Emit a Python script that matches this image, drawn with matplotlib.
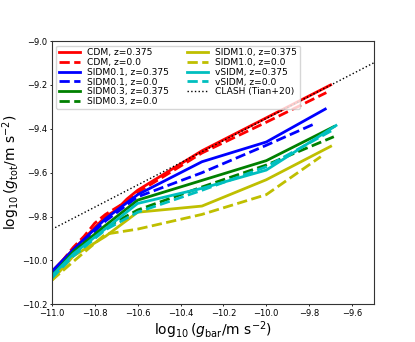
import numpy as np
import matplotlib
matplotlib.use("Agg")
import matplotlib.pyplot as plt

# x positions (log10 g_bar)
x_cdm = [-11.0, -10.95, -10.9, -10.85, -10.8, -10.75, -10.7, -10.65, -10.6, -10.3, -10.0, -9.7]
cdm_z0375 = [-10.05, -10.00, -9.95, -9.90, -9.85, -9.80, -9.77, -9.72, -9.68, -9.50, -9.35, -9.20]
x_cdm0 = [-11.0, -10.95, -10.9, -10.85, -10.8, -10.75, -10.7, -10.65, -10.6, -10.3, -10.0, -9.72]
cdm_z0 = [-10.06, -10.00, -9.94, -9.89, -9.83, -9.79, -9.76, -9.73, -9.69, -9.51, -9.37, -9.235]

x_s = [-11.0, -10.9, -10.75, -10.6, -10.3, -10.0]
sidm01_z0375 = [-10.05, -9.95, -9.81, -9.70, -9.55, -9.46]
sidm01_z0 = [-10.06, -9.96, -9.82, -9.71, -9.60, -9.475]
sidm03_z0375 = [-10.07, -9.96, -9.84, -9.725, -9.635, -9.545]
sidm03_z0 = [-10.07, -9.97, -9.85, -9.77, -9.665, -9.565]
sidm10_z0375 = [-10.09, -9.98, -9.89, -9.78, -9.752, -9.632]
sidm10_z0 = [-10.09, -10.005, -9.88, -9.857, -9.79, -9.70]
vsidm_z0375 = [-10.07, -9.97, -9.855, -9.74, -9.671, -9.588]
vsidm_z0 = [-10.08, -9.98, -9.86, -9.78, -9.68, -9.573]

x_end = {"sidm01_z0375": -9.725, "sidm01_z0": -9.77, "sidm03_z0375": -9.685, "sidm03_z0": -9.685,
         "sidm10_z0375": -9.70, "sidm10_z0": -9.746, "vsidm_z0375": -9.675, "vsidm_z0": -9.68}
y_end = {"sidm01_z0375": -9.31, "sidm01_z0": -9.375, "sidm03_z0375": -9.39, "sidm03_z0": -9.436,
         "sidm10_z0375": -9.48, "sidm10_z0": -9.527, "vsidm_z0375": -9.385, "vsidm_z0": -9.40}

clash_x = [-11.0, -9.5]
clash_y = [-9.858, -9.10]

fig = plt.figure(figsize=(4.15, 3.42), dpi=100)
ax = fig.add_subplot(111)

lw = 2.0
ax.plot(x_cdm, cdm_z0375, color="red", ls="-", lw=lw, label="CDM, z=0.375")
ax.plot(x_cdm0, cdm_z0, color="red", ls="--", lw=lw, label="CDM, z=0.0")

series = [
    ("sidm01_z0375", sidm01_z0375, "blue", "-", "SIDM0.1, z=0.375"),
    ("sidm01_z0", sidm01_z0, "blue", "--", "SIDM0.1, z=0.0"),
    ("sidm03_z0375", sidm03_z0375, "green", "-", "SIDM0.3, z=0.375"),
    ("sidm03_z0", sidm03_z0, "green", "--", "SIDM0.3, z=0.0"),
    ("sidm10_z0375", sidm10_z0375, "y", "-", "SIDM1.0, z=0.375"),
    ("sidm10_z0", sidm10_z0, "y", "--", "SIDM1.0, z=0.0"),
    ("vsidm_z0375", vsidm_z0375, "c", "-", "vSIDM, z=0.375"),
    ("vsidm_z0", vsidm_z0, "c", "--", "vSIDM, z=0.0"),
]
for key, ys, c, ls, lab in series:
    xs = x_s + [x_end[key]]
    yy = ys + [y_end[key]]
    ax.plot(xs, yy, color=c, ls=ls, lw=lw, label=lab)

ax.plot(clash_x, clash_y, color="black", ls=":", lw=1.0, label="CLASH (Tian+20)")

ax.set_xlim(-11.0, -9.5)
ax.set_ylim(-10.2, -9.0)
ax.set_xticks(np.arange(-11.0, -9.55, 0.2))
ax.set_yticks(np.arange(-10.2, -8.95, 0.2))
ax.tick_params(labelsize=6, length=1.5, width=0.6, pad=1.5)
for s in ax.spines.values():
    s.set_linewidth(0.8)
    s.set_color("#333333")
ax.set_xlabel(r"$\log_{10}(g_{\rm bar}/{\rm m\ s^{-2}})$", fontsize=10, labelpad=1)
ax.set_ylabel(r"$\log_{10}(g_{\rm tot}/{\rm m\ s^{-2}})$", fontsize=10, labelpad=0)

ax.legend(loc="upper left", ncol=2, fontsize=6.6, labelspacing=0.08, handlelength=2.3,
          columnspacing=2.0, borderpad=0.3, handletextpad=0.75, framealpha=0.8)

fig.subplots_adjust(left=0.125, right=0.9, bottom=0.11, top=0.88)
fig.savefig("out.png", dpi=100)
